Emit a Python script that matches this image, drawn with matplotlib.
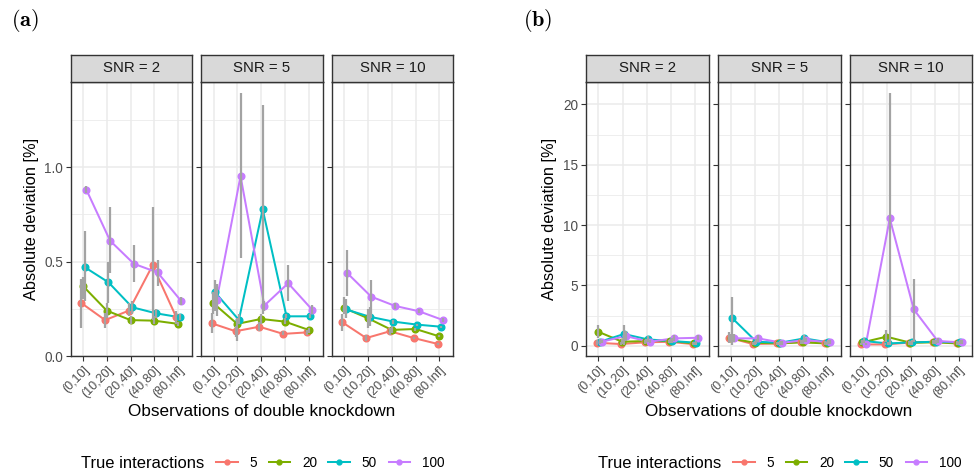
import matplotlib
matplotlib.use("Agg")
import matplotlib.pyplot as plt
from matplotlib.lines import Line2D

plt.rcParams["font.family"] = ["Liberation Sans", "DejaVu Sans"]
plt.rcParams["mathtext.fontset"] = "cm"

W, H = 979, 474

bins = ["(0,10]", "(10,20]", "(20,40]", "(40,80]", "(80,Inf]"]
snrs = [2, 5, 10]
groups = ["5", "20", "50", "100"]
colors = ["#F8766D", "#7CAE00", "#00BFC4", "#C77CFF"]

# (a) mean absolute deviation per SNR, one row per number of true interactions
mean_a = {
    2: [[0.28, 0.19, 0.24, 0.48, 0.205],
        [0.37, 0.24, 0.19, 0.187, 0.17],
        [0.47, 0.39, 0.258, 0.226, 0.205],
        [0.88, 0.61, 0.488, 0.442, 0.29]],
    5: [[0.173, 0.131, 0.155, 0.117, 0.125],
        [0.279, 0.17, 0.196, 0.182, 0.138],
        [0.337, 0.191, 0.776, 0.21, 0.21],
        [0.297, 0.952, 0.267, 0.385, 0.246]],
    10: [[0.178, 0.095, 0.131, 0.095, 0.064],
         [0.254, 0.20, 0.138, 0.143, 0.104],
         [0.247, 0.208, 0.182, 0.166, 0.155],
         [0.438, 0.314, 0.265, 0.237, 0.191]],
}
lo_a = {
    2: [[0.15, 0.15, 0.21, 0.19, 0.17],
        [0.30, 0.20, 0.17, 0.17, 0.16],
        [0.29, 0.28, 0.22, 0.20, 0.19],
        [0.86, 0.44, 0.39, 0.37, 0.27]],
    5: [[0.12, 0.10, 0.13, 0.11, 0.11],
        [0.22, 0.08, 0.17, 0.17, 0.12],
        [0.24, 0.17, 0.22, 0.20, 0.20],
        [0.21, 0.52, 0.24, 0.29, 0.22]],
    10: [[0.13, 0.08, 0.11, 0.09, 0.06],
         [0.22, 0.15, 0.12, 0.13, 0.10],
         [0.20, 0.16, 0.17, 0.16, 0.15],
         [0.32, 0.20, 0.25, 0.23, 0.18]],
}
hi_a = {
    2: [[0.41, 0.23, 0.28, 0.79, 0.24],
        [0.42, 0.28, 0.21, 0.21, 0.18],
        [0.66, 0.50, 0.29, 0.25, 0.22],
        [0.90, 0.79, 0.59, 0.51, 0.31]],
    5: [[0.23, 0.16, 0.18, 0.13, 0.14],
        [0.34, 0.20, 0.22, 0.20, 0.15],
        [0.40, 0.22, 1.33, 0.22, 0.22],
        [0.38, 1.39, 0.29, 0.48, 0.27]],
    10: [[0.22, 0.11, 0.15, 0.10, 0.07],
         [0.31, 0.25, 0.16, 0.15, 0.11],
         [0.30, 0.26, 0.19, 0.17, 0.16],
         [0.56, 0.40, 0.28, 0.25, 0.20]],
}

# (b) same layout
mean_b = {
    2: [[0.25, 0.14, 0.28, 0.33, 0.14],
        [1.16, 0.33, 0.39, 0.39, 0.19],
        [0.33, 0.97, 0.52, 0.39, 0.25],
        [0.33, 0.80, 0.33, 0.61, 0.66]],
    5: [[0.66, 0.14, 0.19, 0.33, 0.25],
        [0.61, 0.25, 0.19, 0.28, 0.19],
        [2.27, 0.33, 0.25, 0.61, 0.28],
        [0.61, 0.61, 0.25, 0.47, 0.28]],
    10: [[0.11, 0.11, 0.25, 0.33, 0.25],
         [0.28, 0.75, 0.25, 0.28, 0.19],
         [0.39, 0.19, 0.28, 0.33, 0.28],
         [0.11, 10.55, 3.01, 0.39, 0.28]],
}
lo_b = {
    2: [[0.10, 0.05, 0.15, 0.20, 0.05],
        [0.60, 0.15, 0.25, 0.25, 0.10],
        [0.15, 0.10, 0.30, 0.25, 0.10],
        [0.20, 0.40, 0.20, 0.40, 0.50]],
    5: [[0.20, 0.05, 0.05, 0.15, 0.10],
        [0.30, 0.10, 0.05, 0.15, 0.05],
        [0.10, 0.15, 0.10, 0.35, 0.15],
        [0.30, 0.30, 0.10, 0.30, 0.15]],
    10: [[0.02, 0.02, 0.10, 0.15, 0.10],
         [0.15, 0.30, 0.10, 0.15, 0.05],
         [0.20, 0.05, 0.10, 0.15, 0.15],
         [0.02, 0.10, 0.30, 0.20, 0.15]],
}
hi_b = {
    2: [[0.45, 0.30, 0.45, 0.50, 0.30],
        [1.70, 0.55, 0.55, 0.55, 0.35],
        [0.55, 1.75, 0.80, 0.60, 0.40],
        [0.50, 1.20, 0.50, 0.85, 0.85]],
    5: [[1.10, 0.30, 0.35, 0.50, 0.40],
        [0.95, 0.40, 0.35, 0.45, 0.35],
        [4.00, 0.55, 0.40, 0.90, 0.45],
        [0.95, 0.90, 0.40, 0.65, 0.45]],
    10: [[0.25, 0.25, 0.40, 0.50, 0.40],
         [0.45, 1.30, 0.40, 0.45, 0.35],
         [0.60, 0.35, 0.45, 0.50, 0.45],
         [0.25, 20.90, 5.50, 0.60, 0.45]],
}

dodge = [-0.08, -0.01, 0.06, 0.13]


def px_axes(fig, left, top, right, bottom):
    return fig.add_axes([left / W, 1 - bottom / H, (right - left) / W, (bottom - top) / H])


def draw_group(fig, lefts, rights, means, los, his, ylim, yticks, yminor, ylabels, tag, tag_x):
    top, bottom, strip_top = 82, 356, 55
    for k, snr in enumerate(snrs):
        ax = px_axes(fig, lefts[k], top, rights[k], bottom)
        ax.set_xlim(0.47, 5.58)
        ax.set_ylim(*ylim)
        for y in yminor:
            ax.axhline(y, color="#EBEBEB", lw=0.6, zorder=0)
        for y in yticks:
            ax.axhline(y, color="#EBEBEB", lw=1.1, zorder=0)
        for x in range(1, 6):
            ax.axvline(x, color="#EBEBEB", lw=1.1, zorder=0)
        for g in range(4):
            xs = [i + 1 + dodge[g] for i in range(5)]
            ax.plot(xs, means[snr][g], color=colors[g], lw=1.45, zorder=2)
            ax.plot(xs, means[snr][g], "o", color=colors[g], ms=4.8, zorder=3)
            ax.vlines(xs, los[snr][g], his[snr][g], color="#A3A3A3", lw=1.6, zorder=4)
        ax.set_xticks(range(1, 6))
        ax.set_xticklabels(bins, rotation=45, ha="right", va="top",
                           rotation_mode="anchor", fontsize=9, color="#4D4D4D")
        ax.set_yticks(yticks)
        if k == 0:
            ax.set_yticklabels(ylabels, fontsize=9.8, color="#4D4D4D")
            ax.set_ylabel("Absolute deviation [%]", fontsize=11.8, labelpad=4)
        else:
            ax.tick_params(axis="y", length=0, labelleft=False)
        ax.tick_params(axis="both", color="#333333", length=3.5, width=0.8, pad=2)
        for s in ax.spines.values():
            s.set_color("#333333")
            s.set_linewidth(1.0)

        st = px_axes(fig, lefts[k], strip_top, rights[k], top)
        st.set_facecolor("#D9D9D9")
        st.set_xticks([])
        st.set_yticks([])
        for s in st.spines.values():
            s.set_color("#333333")
            s.set_linewidth(1.0)
        st.text(0.5, 0.5, f"SNR = {snr}", transform=st.transAxes, ha="center",
                va="center", fontsize=10.8, color="#1A1A1A")

    mid = (lefts[0] + rights[-1]) / 2
    fig.text(mid / W, 1 - 412 / H, "Observations of double knockdown", ha="center",
             va="center", fontsize=12.3)
    fig.text(tag_x / W, 1 - 21 / H, r"$\mathbf{" + tag + "}$", ha="left",
             va="center", fontsize=16)


def draw_legend(fig, x_title, x_keys):
    fig.text(x_title / W, 1 - 463 / H, "True interactions", ha="left", va="center",
             fontsize=11.9)
    handles = [Line2D([], [], color=c, lw=1.45, marker="o", ms=3.5) for c in colors]
    fig.legend(handles, groups, loc="center left", bbox_to_anchor=(x_keys / W, 1 - 463 / H),
               ncol=4, frameon=False, fontsize=9.8, handlelength=1.6, handletextpad=0.85,
               columnspacing=0.85, borderpad=0, borderaxespad=0)


fig = plt.figure(figsize=(W / 100, H / 100), dpi=100)

draw_group(fig, [70.7, 201, 331.7], [192, 322.7, 453.3], mean_a, lo_a, hi_a,
           (0, 1.45), [0.0, 0.5, 1.0], [0.25, 0.75, 1.25], ["0.0", "0.5", "1.0"], "(a)", 11)
draw_group(fig, [585.7, 718.3, 850], [708.7, 840.7, 972.5], mean_b, lo_b, hi_b,
           (-0.85, 21.85), [0, 5, 10, 15, 20], [2.5, 7.5, 12.5, 17.5],
           ["0", "5", "10", "15", "20"], "(b)", 523)

draw_legend(fig, 81, 216)
draw_legend(fig, 598, 733)

fig.savefig("out.png", dpi=100)
